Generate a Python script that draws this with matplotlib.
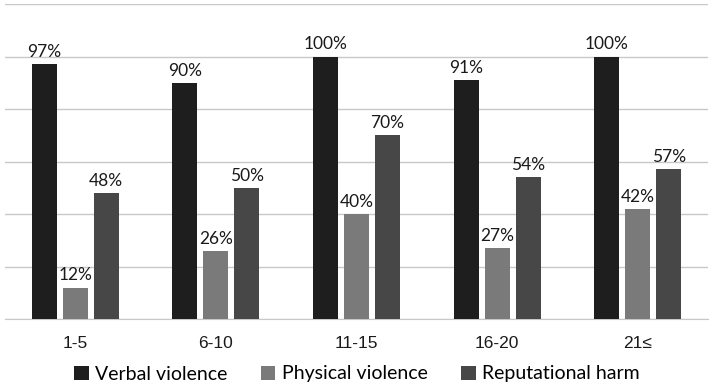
import numpy as np
import matplotlib
matplotlib.use('Agg')
import matplotlib.pyplot as plt

categories = ['1-5', '6-10', '11-15', '16-20', '21≤']
series_names = ['Verbal violence', 'Physical violence', 'Reputational harm']
verbal = [97, 90, 100, 91, 100]
physical = [12, 26, 40, 27, 42]
reputational = [48, 50, 70, 54, 57]
colors = ['#1e1e1e', '#7a7a7a', '#474747']

fig = plt.figure(figsize=(7.14, 3.88), dpi=100)
ax = fig.add_axes([5 / 714, 69 / 388, 703 / 714, 315 / 388])

x = np.arange(len(categories))
w = 0.178
step = 0.22
for i, (vals, name) in enumerate(zip([verbal, physical, reputational], series_names)):
    pos = x + (i - 1) * step
    bars = ax.bar(pos, vals, width=w, color=colors[i], label=name, zorder=3)
    for b, v in zip(bars, vals):
        ax.annotate(f'{v}%', (b.get_x() + b.get_width() / 2, v),
                    xytext=(0, 3), textcoords='offset points',
                    ha='center', va='bottom', fontsize=12.5, family='Lato',
                    color='#1a1a1a')

ax.set_xlim(-0.5, len(categories) - 0.5)
ax.set_ylim(0, 120)
ax.set_yticks(np.arange(0, 121, 20))
ax.yaxis.grid(True, color='#c8c8c8', linewidth=1, zorder=0)
ax.tick_params(axis='y', left=False, labelleft=False)
ax.tick_params(axis='x', bottom=False, pad=9)
ax.set_xticks(x)
ax.set_xticklabels(categories, fontsize=12.5, family='Liberation Sans', color='#1a1a1a')
for s in ['top', 'left', 'right']:
    ax.spines[s].set_visible(False)
ax.spines['bottom'].set_color('#c8c8c8')

leg = fig.legend(loc='center', bbox_to_anchor=(0.5, 14 / 388), ncol=3, frameon=False,
                 prop={'family': 'Lato', 'size': 14}, handlelength=0.75, handleheight=0.75,
                 handletextpad=0.35, columnspacing=1.7)

fig.savefig('out.png', dpi=100)
